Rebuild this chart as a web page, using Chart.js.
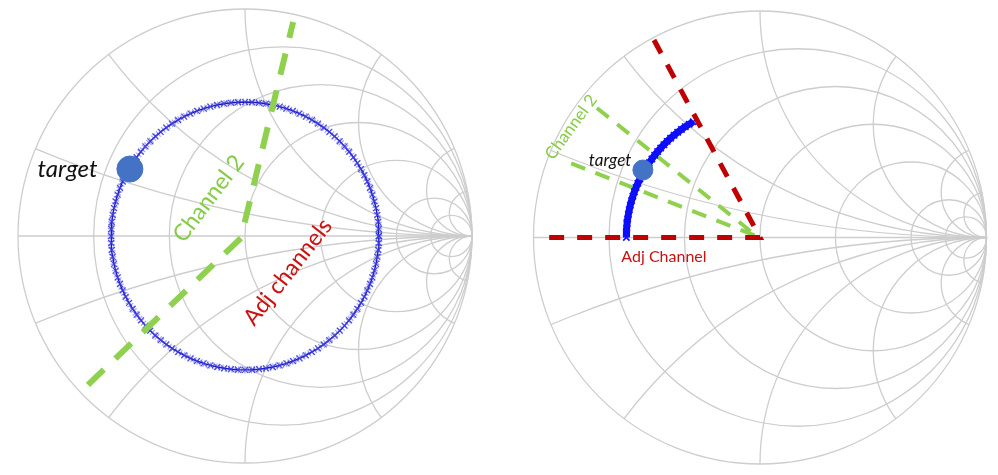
<!DOCTYPE html>
<html><head><meta charset="utf-8">
<script src="https://cdn.jsdelivr.net/npm/chart.js@4/dist/chart.umd.min.js"></script>
<style>
html,body{margin:0;padding:0;background:#fff;}
#wrap{position:relative;width:998px;height:475px;overflow:hidden;background:#fff;}
#wrap canvas{position:absolute;top:0;}
#left{left:0;}
#right{left:499px;}
</style></head><body>
<div id="wrap"><canvas id="left" width="499" height="475"></canvas><canvas id="right" width="499" height="475"></canvas></div>
<script>
// Smith chart grid values (normalized resistance / reactance)
const resistanceCircles = [0.2, 0.5, 1, 2, 5, 10];
const reactanceArcs = [0.2, 0.5, 1, 2, 5, 10, -0.2, -0.5, -1, -2, -5, -10];

// Left chart: full constant-|Γ| phase sweep
const sweepMagnitude = 0.59;
const sweepPhasesDeg = [0,3,6,9,12,15,18,21,24,27,30,33,36,39,42,45,48,51,54,57,60,63,66,69,72,75,78,81,84,87,
  90,93,96,99,102,105,108,111,114,117,120,123,126,129,132,135,138,141,144,147,150,153,156,159,162,165,168,171,174,177,
  180,183,186,189,192,195,198,201,204,207,210,213,216,219,222,225,228,231,234,237,240,243,246,249,252,255,258,261,264,267,
  270,273,276,279,282,285,288,291,294,297,300,303,306,309,312,315,318,321,324,327,330,333,336,339,342,345,348,351,354,357,360];
const leftTargetRe = -0.507, leftTargetIm = 0.295;
// Channel 2 path (real / imaginary parts of Γ)
const channel2Re = [-0.692, -0.018, 0.212];
const channel2Im = [-0.656, -0.009, 0.943];

// Right chart: partial sweep between the channel limits
const arcMagnitude = 0.59;
const arcPhasesDeg = [120,122,124,126,128,130,132,134,136,138,140,142,144,146,148,150,
  152,154,156,158,160,162,164,166,168,170,172,174,176,178,180];
const rightTargetRe = -0.517, rightTargetIm = 0.298;
const adjChannelRe = [-0.468, 0, -0.936];
const adjChannelIm = [0.872, 0, 0];
const channel2LimitsRe = [-0.72, -0.013, -0.87];
const channel2LimitsIm = [0.572, 0.005, 0.342];

const polar = (m, deg) => ({ x: m * Math.cos(deg * Math.PI / 180), y: m * Math.sin(deg * Math.PI / 180) });
const pairs = (re, im) => re.map((v, i) => ({ x: v, y: im[i] }));

// Draws the Smith chart grid from the chart's own scales
const smithGrid = {
  id: 'smithGrid',
  beforeDatasetsDraw(chart) {
    const { ctx, scales: { x, y } } = chart;
    const cx = x.getPixelForValue(0), cy = y.getPixelForValue(0);
    const R = x.getPixelForValue(1) - cx;
    ctx.save();
    ctx.strokeStyle = '#cdcdcd';
    ctx.lineWidth = 1.3;
    ctx.beginPath(); ctx.arc(cx, cy, R, 0, Math.PI * 2); ctx.stroke();
    ctx.beginPath(); ctx.moveTo(cx - R, cy); ctx.lineTo(cx + R, cy); ctx.stroke();
    resistanceCircles.forEach(r => {
      ctx.beginPath();
      ctx.arc(cx + R * r / (1 + r), cy, R / (1 + r), 0, Math.PI * 2);
      ctx.stroke();
    });
    ctx.beginPath(); ctx.arc(cx, cy, R, 0, Math.PI * 2); ctx.clip();
    reactanceArcs.forEach(xv => {
      ctx.beginPath();
      ctx.arc(cx + R, cy - R / xv, R / Math.abs(xv), 0, Math.PI * 2);
      ctx.stroke();
    });
    ctx.restore();
  }
};

// Draws the text annotations at Γ positions
const smithText = {
  id: 'smithText',
  afterDatasetsDraw(chart, args, opts) {
    const { ctx, scales: { x, y } } = chart;
    (opts.items || []).forEach(t => {
      ctx.save();
      ctx.translate(x.getPixelForValue(t.re), y.getPixelForValue(t.im));
      ctx.rotate((t.angle || 0) * Math.PI / 180);
      ctx.font = t.font;
      ctx.fillStyle = t.color;
      ctx.textAlign = 'center';
      ctx.textBaseline = 'middle';
      ctx.fillText(t.text, 0, 0);
      ctx.restore();
    });
  }
};

function baseOptions(xr, yr, items) {
  return {
    responsive: false, animation: false, events: [],
    layout: { padding: 0, autoPadding: false },
    scales: {
      x: { type: 'linear', min: xr[0], max: xr[1], display: false },
      y: { type: 'linear', min: yr[0], max: yr[1], display: false }
    },
    plugins: { legend: { display: false }, tooltip: { enabled: false }, smithText: { items } }
  };
}

const sweepPoints = sweepPhasesDeg.map(d => polar(sweepMagnitude, d));
const arcPoints = arcPhasesDeg.map(d => polar(arcMagnitude, d));

new Chart(document.getElementById('left'), {
  type: 'scatter',
  data: {
    datasets: [
      { label: 'target', data: [{ x: leftTargetRe, y: leftTargetIm }], pointRadius: 13,
        pointBackgroundColor: '#4472c4', pointBorderColor: '#4472c4', order: 0 },
      { label: 'Channel 2', data: pairs(channel2Re, channel2Im), showLine: true, borderColor: '#8fd14f',
        borderWidth: 6, borderDash: [22, 16], pointRadius: 0, order: 1 },
      { label: 'sweep', data: sweepPoints, showLine: true,
        borderColor: '#1a1ab8', borderWidth: 1.4, pointStyle: 'crossRot', pointRadius: 4.2,
        pointBorderColor: 'rgba(60,60,225,0.9)', pointBorderWidth: 1.2, order: 2 },
      { label: 'sweep band', data: sweepPoints, showLine: true,
        borderColor: 'rgba(90,90,230,0.55)', borderWidth: 7, borderDash: [1.2, 2], pointRadius: 0, order: 3 }
    ]
  },
  options: baseOptions([-1.0793, 1.1189], [-1.0529, 1.0396], [
    { text: 'target', re: -0.782, im: 0.295, font: 'italic 24px Lato', color: '#111' },
    { text: 'Channel 2', re: -0.16, im: 0.165, angle: -53, font: '23px Lato', color: '#86cc48' },
    { text: 'Adj channels', re: 0.189, im: -0.159, angle: -52, font: '23px Lato', color: '#cc1111' }
  ]),
  plugins: [smithGrid, smithText]
});

new Chart(document.getElementById('right'), {
  type: 'scatter',
  data: {
    datasets: [
      { label: 'target', data: [{ x: rightTargetRe, y: rightTargetIm }], pointRadius: 10,
        pointBackgroundColor: '#4472c4', pointBorderColor: '#4472c4', order: 0 },
      { label: 'Adj Channel', data: pairs(adjChannelRe, adjChannelIm), showLine: true, borderColor: '#c00000',
        borderWidth: 5, borderDash: [15, 13], pointRadius: 0, order: 1 },
      { label: 'sweep', data: arcPoints, showLine: true,
        borderColor: '#0a0aff', borderWidth: 7, pointStyle: 'crossRot', pointRadius: 4.5,
        pointBorderColor: '#1010ff', pointBorderWidth: 1.6, order: 2 },
      { label: 'Channel 2', data: pairs(channel2LimitsRe, channel2LimitsIm), showLine: true, borderColor: '#8fd14f',
        borderWidth: 4, borderDash: [15, 11], pointRadius: 0, order: 3 }
    ]
  },
  options: baseOptions([-1.1523, 1.0508], [-1.0486, 1.0486], [
    { text: 'target', re: -0.662, im: 0.338, font: 'italic 17px Lato', color: '#111' },
    { text: 'Channel 2', re: -0.834, im: 0.488, angle: -54, font: '17px Lato', color: '#86cc48' },
    { text: 'Adj Channel', re: -0.424, im: -0.086, font: '16px Lato', color: '#cc1111' }
  ]),
  plugins: [smithGrid, smithText]
});
</script>
</body></html>
